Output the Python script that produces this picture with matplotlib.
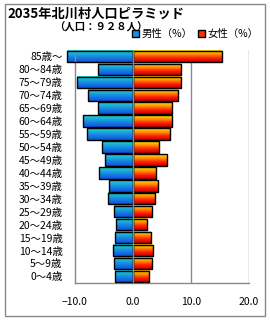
import numpy as np
import matplotlib.pyplot as plt
from matplotlib.colors import LinearSegmentedColormap
from matplotlib.patches import Patch, Rectangle

plt.rcParams['font.family'] = ['Noto Sans CJK JP', 'DejaVu Sans']

# 年齢階級（下から上へ）
age_groups = ["0～4歳", "5～9歳", "10～14歳", "15～19歳", "20～24歳", "25～29歳",
              "30～34歳", "35～39歳", "40～44歳", "45～49歳", "50～54歳", "55～59歳",
              "60～64歳", "65～69歳", "70～74歳", "75～79歳", "80～84歳", "85歳～"]
male_pct = [3.1, 3.3, 3.4, 3.1, 2.9, 3.2, 4.3, 4.2, 5.8, 4.8, 5.3, 7.9,
            8.6, 6.1, 7.7, 9.6, 6.0, 11.4]
female_pct = [2.8, 3.3, 3.4, 3.1, 2.4, 3.3, 3.8, 4.3, 4.0, 5.9, 4.5, 6.4,
              6.7, 6.7, 7.8, 8.3, 8.3, 15.3]
x_ticks = [-10, 0, 10, 20]

cm_male = LinearSegmentedColormap.from_list("m", ["#1050e0", "#1890e0", "#20d8d0"])
cm_female = LinearSegmentedColormap.from_list("f", ["#c00000", "#ff2000", "#ff9000", "#ffe800"])
grad = np.linspace(0, 1, 64).reshape(-1, 1)

fig = plt.figure(figsize=(2.7, 3.2), dpi=100)
ax = fig.add_axes([0.278, 0.116, 0.644, 0.728])

h = 0.88
y = np.arange(len(age_groups))
for i in range(len(age_groups)):
    m = male_pct[i]
    f = female_pct[i]
    # 男性（左）
    ax.imshow(grad, extent=[-m, 0, y[i] - h / 2, y[i] + h / 2], origin='lower',
              aspect='auto', cmap=cm_male, clip_on=False, zorder=2)
    ax.add_patch(Rectangle((-m, y[i] - h / 2), m, h, fill=False, edgecolor='black',
                           linewidth=1.0, clip_on=False, zorder=3))
    # 女性（右）
    ax.imshow(grad, extent=[0, f, y[i] - h / 2, y[i] + h / 2], origin='lower',
              aspect='auto', cmap=cm_female, clip_on=False, zorder=2)
    ax.add_patch(Rectangle((0, y[i] - h / 2), f, h, fill=False, edgecolor='black',
                           linewidth=1.0, clip_on=False, zorder=3))

ax.set_xlim(-10, 20)
ax.set_ylim(-0.5, len(age_groups) - 0.5)
ax.set_xticks(x_ticks)
ax.set_xticklabels([f"{v:.1f}".replace("-", "−") for v in x_ticks], fontsize=7.5)
ax.set_yticks(y)
ax.set_yticklabels(age_groups, fontsize=7.5)
ax.tick_params(axis='x', length=0, pad=10)
ax.tick_params(axis='y', length=0, pad=9)

for xv in [0, 10, 20]:
    ax.axvline(xv, color='#888888', linewidth=1.0, zorder=4 if xv == 0 else 1)

for s in ['top', 'right']:
    ax.spines[s].set_visible(False)
for s in ['left', 'bottom']:
    ax.spines[s].set_color('#888888')
    ax.spines[s].set_linewidth(1.0)

# タイトルと凡例
fig.text(0.026, 0.958, "2035年北川村人口ピラミッド", fontsize=9.5, fontweight='bold', va='center')
fig.text(0.2, 0.915, "（人口：９２８人）", fontsize=7.5, fontweight='bold', va='center')
handles = [Patch(facecolor='#1890e0', edgecolor='black', label='男性（%）'),
           Patch(facecolor='#ff3000', edgecolor='black', label='女性（%）')]
fig.legend(handles=handles, loc='center right', bbox_to_anchor=(0.975, 0.893), ncol=2,
           frameon=False, fontsize=7.5, handlelength=0.7, handleheight=0.7,
           handletextpad=0.2, columnspacing=0.5, borderpad=0)

# 外枠
fig.patches.append(Rectangle((0.02, 0.012), 0.962, 0.975, transform=fig.transFigure,
                             fill=False, edgecolor='#888888', linewidth=1.0))

plt.savefig("out.png", dpi=100)
